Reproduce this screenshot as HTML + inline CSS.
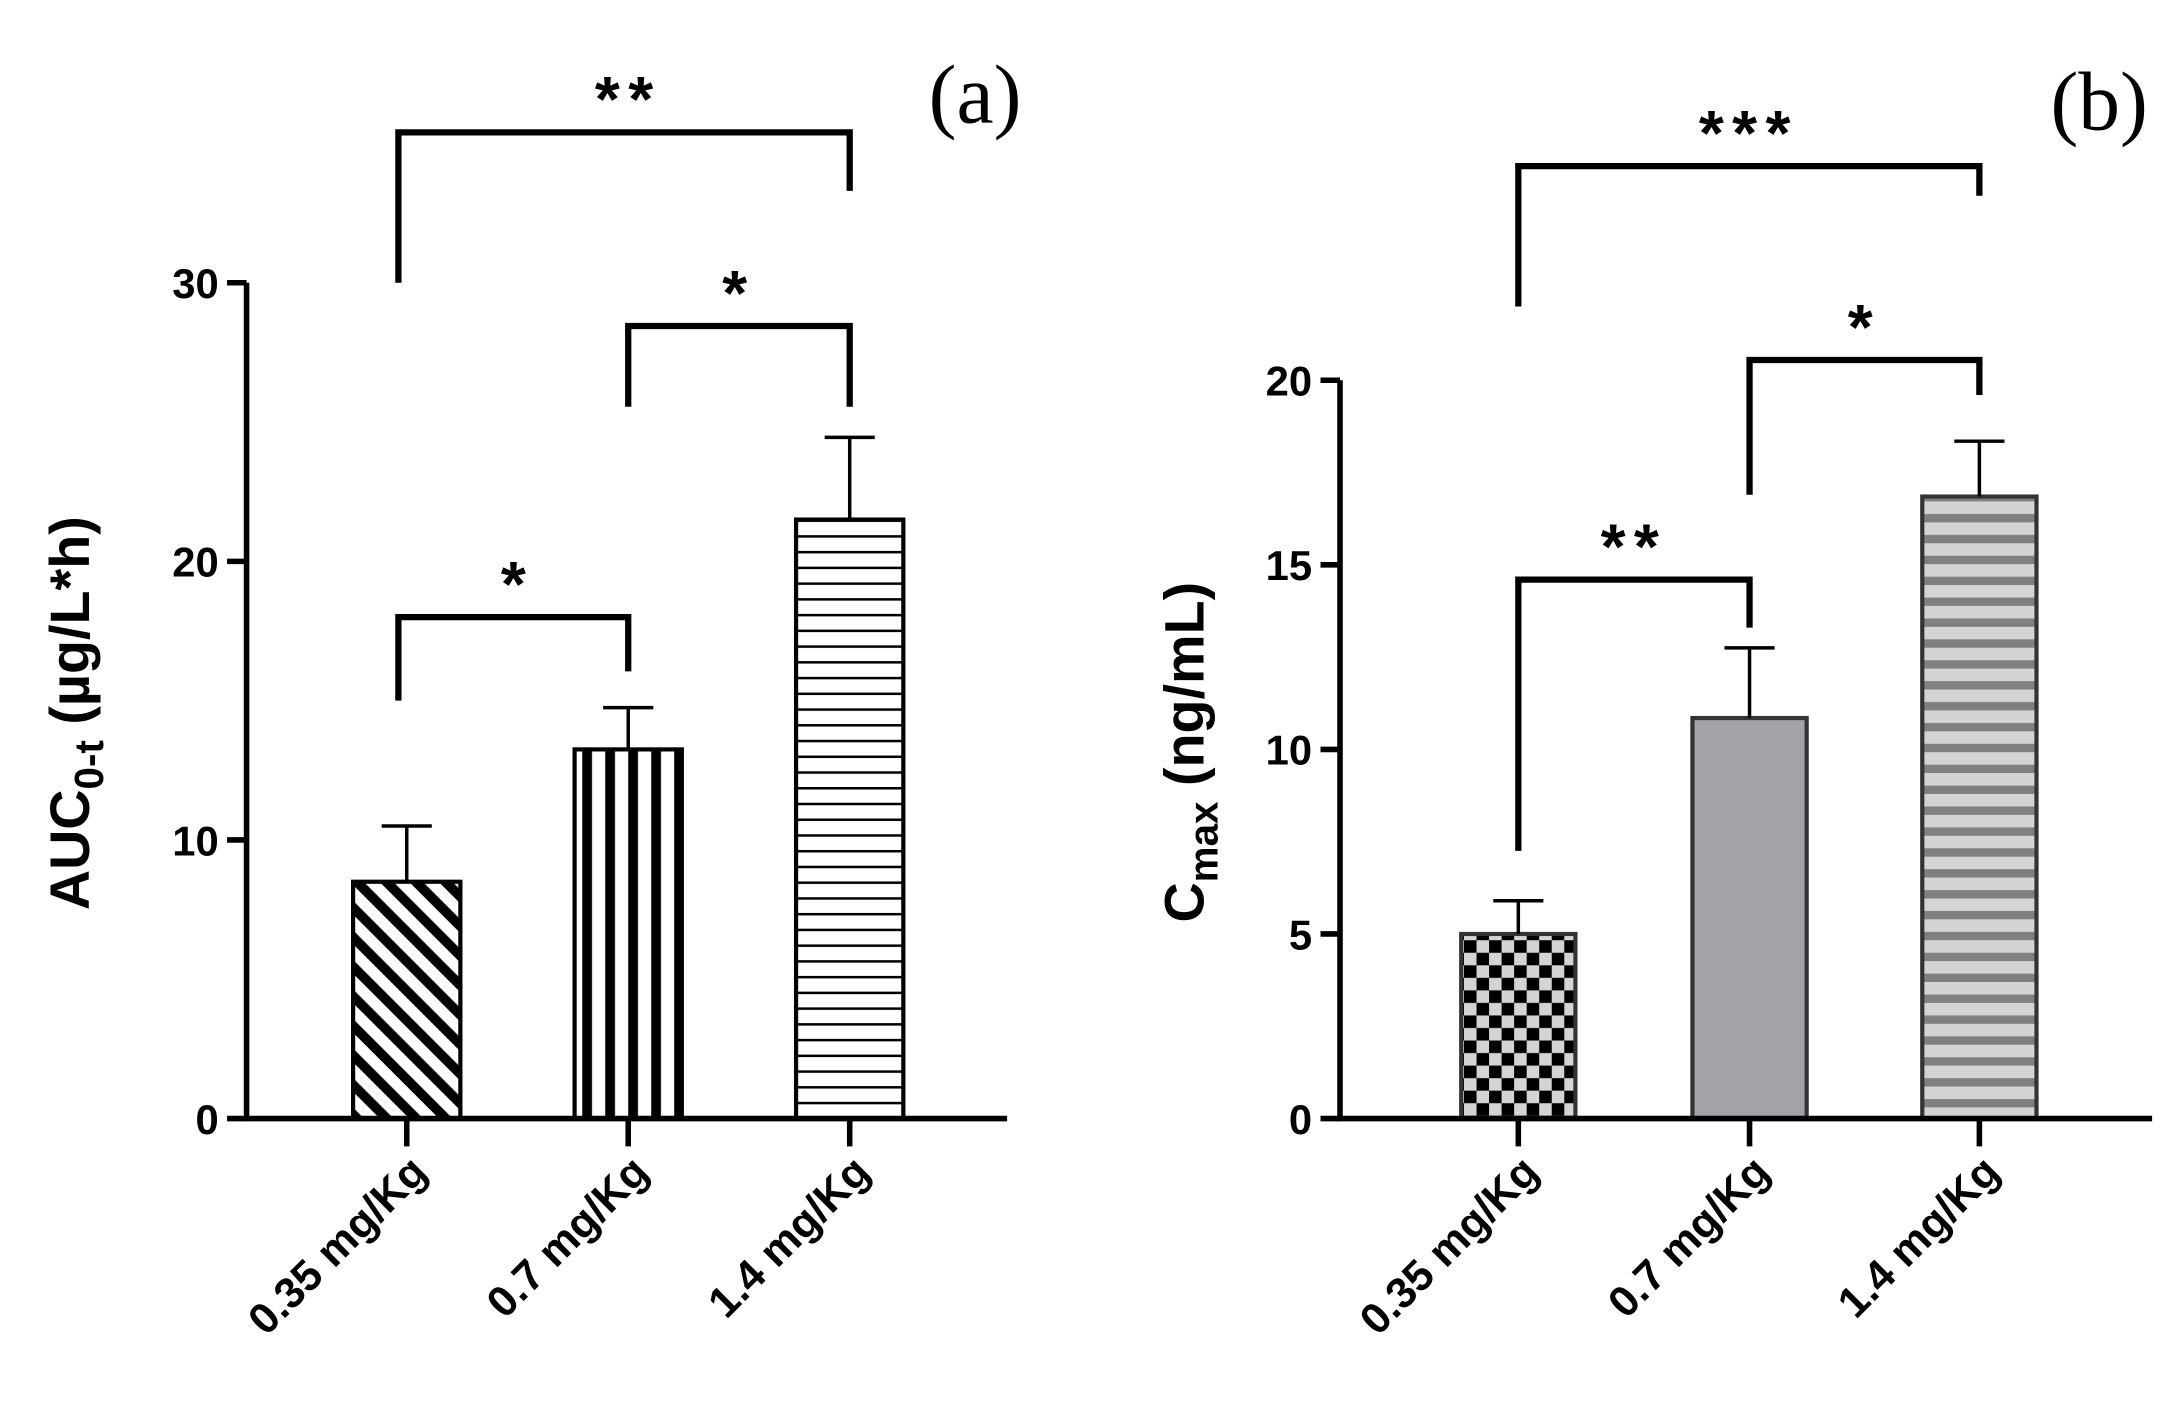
<!DOCTYPE html>
<html><head><meta charset="utf-8"><style>
html,body{margin:0;padding:0;background:#fff;}
svg{display:block;}
text{font-family:"Liberation Sans",Arial,sans-serif;font-weight:bold;fill:#000;}
</style></head><body>
<svg id="chart" width="2173" height="1413" viewBox="0 0 1560 1014.4" preserveAspectRatio="none" xmlns="http://www.w3.org/2000/svg">
<defs>
<pattern id="pDiag" patternUnits="userSpaceOnUse" width="15" height="15" patternTransform="rotate(-45)">
<rect width="15" height="15" fill="#fff"/><rect width="7" height="15" fill="#000"/></pattern>
<pattern id="pVert" patternUnits="userSpaceOnUse" x="418" width="16.5" height="10">
<rect width="16.5" height="10" fill="#fff"/><rect x="0" width="7" height="10" fill="#000"/></pattern>
<pattern id="pHor" patternUnits="userSpaceOnUse" width="10" height="11.3">
<rect width="10" height="11.3" fill="#fff"/><rect y="0" width="10" height="1.8" fill="#000"/></pattern>
<pattern id="pCheck" patternUnits="userSpaceOnUse" x="1051" y="675" width="18" height="18">
<rect width="18" height="18" fill="#d4d4d4"/><rect width="9" height="9" fill="#000"/><rect x="9" y="9" width="9" height="9" fill="#000"/></pattern>
<pattern id="pGrayStripe" patternUnits="userSpaceOnUse" width="10" height="15" y="360">
<rect width="10" height="15" fill="#d4d4d4"/><rect y="9" width="10" height="6" fill="#808080"/></pattern>
</defs>
<g id="panelA"></g>
<g id="panelB"></g>
</svg>
<script>
const NS="http://www.w3.org/2000/svg";
// Panel (a) data
const catsA=["0.35 mg/Kg","0.7 mg/Kg","1.4 mg/Kg"];
const valsA=[8.5,13.25,21.5];
const errA=[2.0,1.5,2.95];
const ticksA=[0,10,20,30];
// Panel (b) data
const catsB=["0.35 mg/Kg","0.7 mg/Kg","1.4 mg/Kg"];
const valsB=[5.0,10.85,16.85];
const errB=[0.9,1.9,1.5];
const ticksB=[0,5,10,15,20];
// significance brackets: [from index, to index, bracket level value, left drop value, right drop value, label]
const sigA=[[0,2,35.4,30,33.3,"**"],[1,2,28.45,25.55,25.55,"*"],[0,1,18,15,16.05,"*"]];
const sigB=[[0,2,25.8,22.0,25.0,"***"],[1,2,20.55,16.9,19.6,"*"],[0,1,14.6,7.25,13.3,"**"]];

function mk(parent,tag,attrs,txt){const e=document.createElementNS(NS,tag);for(const k in attrs)e.setAttribute(k,attrs[k]);if(txt!==undefined)e.textContent=txt;parent.appendChild(e);return e;}

function drawPanel(g,cfg){
  const y=v=>cfg.y0-(v-cfg.ymin)*(cfg.y0-cfg.y1)/(cfg.ymax-cfg.ymin);
  const x=i=>cfg.xs[i];
  const bw=cfg.bw;
  cfg.vals.forEach((v,i)=>{
    const r=mk(g,"rect",{x:x(i)-bw/2,y:y(v),width:bw,height:y(0)-y(v),fill:cfg.fills[i],stroke:cfg.stroke,"stroke-width":3});
    
    
    const e=mk(g,"path",{d:`M${x(i)} ${y(v)} V${y(v+cfg.errs[i])} M${x(i)-18} ${y(v+cfg.errs[i])} H${x(i)+18}`,stroke:"#000","stroke-width":2.5,fill:"none"});
    
    
  });
  const ax=mk(g,"path",{d:`M${cfg.ax} ${y(cfg.ymax)} V${y(0)} M${cfg.ax-2} ${y(0)} H${cfg.xend}`,stroke:"#000","stroke-width":4,fill:"none"});
  
  
  cfg.ticks.forEach(t=>{
    mk(g,"line",{x1:cfg.ax-14,x2:cfg.ax,y1:y(t),y2:y(t),stroke:"#000","stroke-width":4});
    const tl=mk(g,"text",{x:cfg.ax-20,y:y(t)+11,"text-anchor":"end","font-size":30},String(t));
    
    
  });
  cfg.cats.forEach((c,i)=>{
    mk(g,"line",{x1:x(i),x2:x(i),y1:y(0),y2:y(0)+20,stroke:"#000","stroke-width":4});
    const tl=mk(g,"text",{x:0,y:0,"text-anchor":"end","font-size":31,transform:`translate(${x(i)+16},${y(0)+40}) rotate(-45)`},c);
    
    
  });
  cfg.sig.forEach(s=>{
    const [a,b,lv,l1,l2,lab]=s;
    const p=mk(g,"path",{d:`M${x(a)-(a===0&&cfg.shift?6:0)} ${y(l1)} V${y(lv)} H${x(b)} V${y(l2)}`,stroke:"#000","stroke-width":4.5,fill:"none"});
    
    
    const t=mk(g,"text",{x:(x(a)+x(b))/2,y:y(lv)-8,"text-anchor":"middle","font-size":46,"letter-spacing":"6"},lab);
    
    
  });
}

const gA=document.getElementById("panelA"), gB=document.getElementById("panelB");
drawPanel(gA,{y0:803,y1:203,ymin:0,ymax:30,xs:[292,451,610],bw:77,ax:177,xend:723,vals:valsA,errs:errA,ticks:ticksA,cats:catsA,sig:sigA,fills:["url(#pDiag)","url(#pVert)","url(#pHor)"],stroke:"#000",shift:true});
drawPanel(gB,{y0:803,y1:273,ymin:0,ymax:20,xs:[1090,1256,1421],bw:82,ax:962,xend:1545,vals:valsB,errs:errB,ticks:ticksB,cats:catsB,sig:sigB,fills:["url(#pCheck)","#a3a2a7","url(#pGrayStripe)"],stroke:"#333",shift:false});

let t=mk(gA,"text",{transform:"translate(64,512) rotate(-90)","text-anchor":"middle","font-size":40});
t.innerHTML='AUC<tspan font-size="29" dy="10">0-t</tspan><tspan dy="-10"> (µg/L*h)</tspan>';


t=mk(gB,"text",{transform:"translate(864,540) rotate(-90)","text-anchor":"middle","font-size":40});
t.innerHTML='C<tspan font-size="29" dy="10">max</tspan><tspan dy="-10"> (ng/mL)</tspan>';


t=mk(gA,"text",{x:700,y:88,"text-anchor":"middle","font-size":60,style:"font-family:'Liberation Serif',serif;font-weight:normal"},"(a)");


t=mk(gB,"text",{x:1507,y:93,"text-anchor":"middle","font-size":60,style:"font-family:'Liberation Serif',serif;font-weight:normal"},"(b)");


</script>
</body></html>
